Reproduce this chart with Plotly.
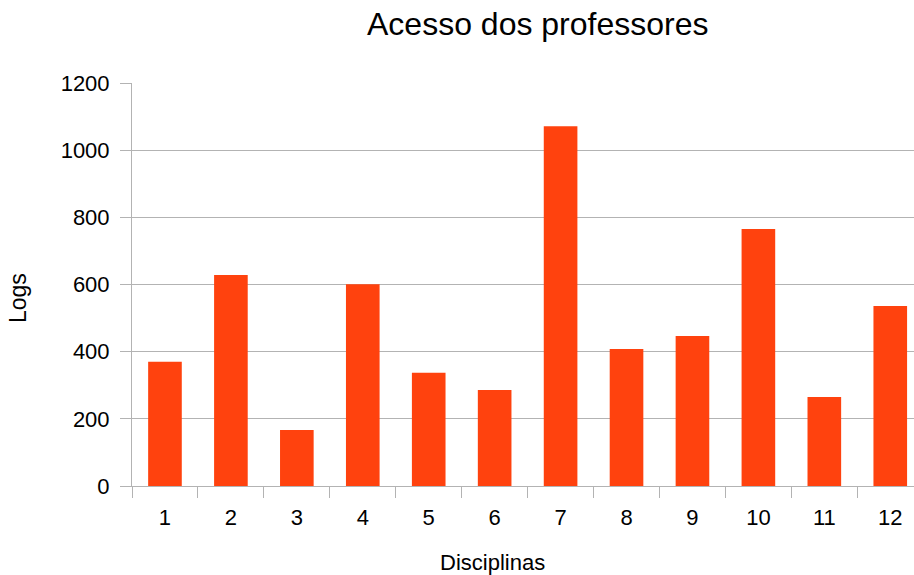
import plotly.graph_objects as go

disciplinas = ["1", "2", "3", "4", "5", "6", "7", "8", "9", "10", "11", "12"]
logs = [370, 628, 167, 601, 337, 286, 1071, 408, 447, 765, 265, 536]

W, H = 914, 575
L, R, T, B = 132, 0, 83, 89
pw, ph = W - L - R, H - T - B
font = "Liberation Sans, Arial, sans-serif"
grid = "#b3b3b3"

fig = go.Figure(go.Bar(x=disciplinas, y=logs, marker=dict(color="#FF420E", line=dict(width=0)),
                       width=0.51))

fig.update_layout(
    width=W, height=H,
    margin=dict(l=L, r=R, t=T, b=B, pad=0),
    paper_bgcolor="white", plot_bgcolor="white",
    font=dict(family=font, color="black"),
    showlegend=False,
    xaxis=dict(type="category", range=[-0.5, 11.36], tickson="boundaries",
               ticks="outside", ticklen=11, tickcolor=grid, tickwidth=1,
               showline=True, linecolor=grid, linewidth=1, showgrid=False,
               tickfont=dict(size=22, family=font), ticklabelstandoff=12),
    yaxis=dict(range=[0, 1200], tickvals=[0, 200, 400, 600, 800, 1000, 1200],
               ticks="outside", ticklen=11, tickcolor=grid, tickwidth=1,
               showline=True, linecolor=grid, linewidth=1,
               showgrid=True, gridcolor=grid, gridwidth=1, zeroline=False,
               tickfont=dict(size=22, family=font), ticklabelstandoff=6),
    annotations=[
        dict(text="Acesso dos professores", xref="paper", yref="paper",
             x=(537.5 - L) / pw, y=(H - B - 23.5) / ph, xanchor="center", yanchor="middle",
             showarrow=False, font=dict(size=32, family=font)),
        dict(text="Disciplinas", xref="paper", yref="paper",
             x=(492 - L) / pw, y=(H - B - 562) / ph, xanchor="center", yanchor="middle",
             showarrow=False, font=dict(size=22, family=font)),
        dict(text="Logs", xref="paper", yref="paper", textangle=-90,
             x=(18 - L) / pw, y=(H - B - 298) / ph, xanchor="center", yanchor="middle",
             showarrow=False, font=dict(size=23, family=font)),
    ],
)

fig.write_html("out.html")
